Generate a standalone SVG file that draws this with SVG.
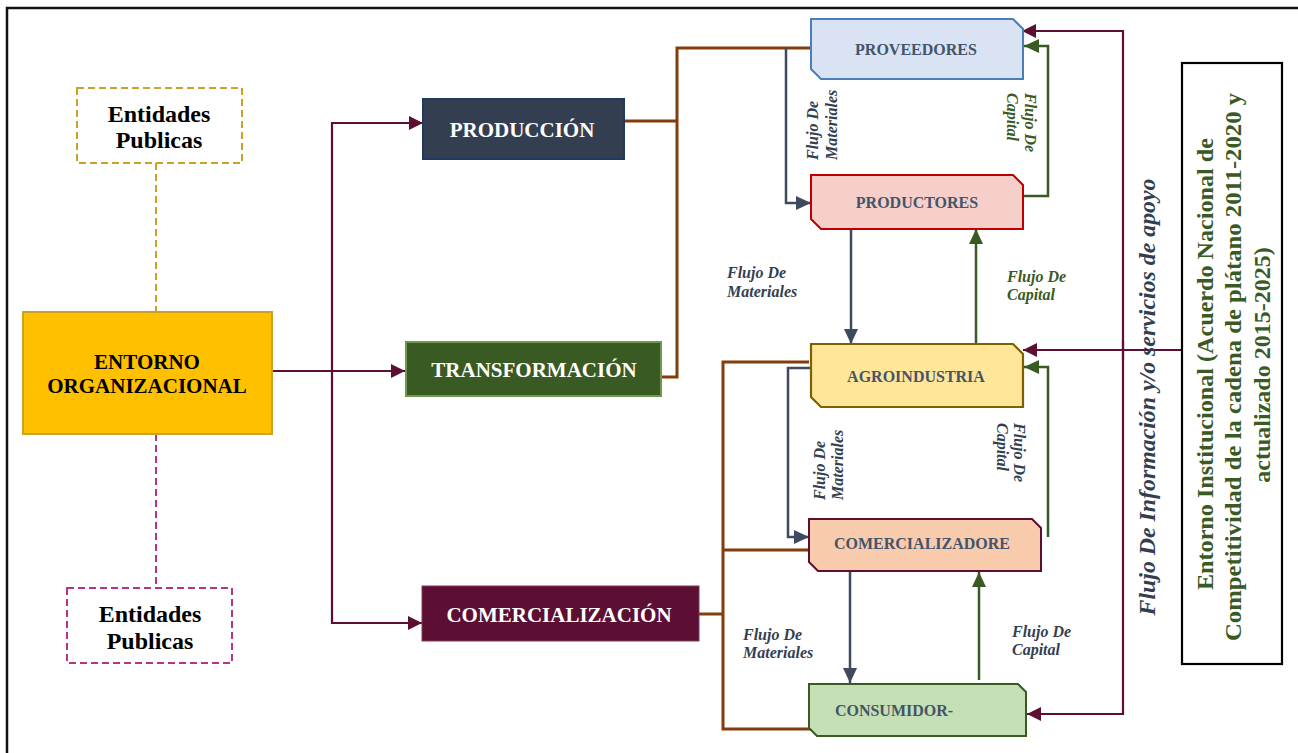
<svg xmlns="http://www.w3.org/2000/svg" width="1298" height="753" viewBox="0 0 1298 753">
  <defs>
    <style>
      text { font-family: "Liberation Serif", "Times New Roman", serif; font-weight: bold; }
      .big { font-size: 21px; fill: #ffffff; text-anchor: middle; }
      .ent { font-size: 24px; fill: #000000; text-anchor: middle; }
      .org { font-size: 21px; fill: #000000; text-anchor: middle; }
      .node { font-size: 16px; fill: #44546A; text-anchor: middle; }
      .lbl { font-size: 16px; font-style: italic; }
      .slate { fill: #333F50; }
      .green { fill: #3A5A24; }
      .inst { font-size: 24px; fill: #3A5A24; text-anchor: middle; }
      .info { font-size: 23px; font-style: italic; fill: #333F50; text-anchor: middle; }
      .c-pur { fill: none; stroke: #5C0F33; stroke-width: 2.2; }
      .c-brn { fill: none; stroke: #843C0C; stroke-width: 3; }
      .c-sla { fill: none; stroke: #3E4B5E; stroke-width: 2.5; }
      .c-grn { fill: none; stroke: #3A5A24; stroke-width: 2.5; }
      .dash-gold { fill: none; stroke: #C9A227; stroke-width: 2; stroke-dasharray: 7 4; }
      .dash-mag { fill: none; stroke: #B5348A; stroke-width: 2; stroke-dasharray: 7 4; }
    </style>
    <marker id="arr-pur" markerUnits="userSpaceOnUse" markerWidth="14" markerHeight="14" refX="14" refY="7" orient="auto">
      <path d="M0,0 L14,7 L0,14 Z" fill="#5C0F33"/>
    </marker>
    <marker id="arr-sla" markerUnits="userSpaceOnUse" markerWidth="15" markerHeight="14" refX="15" refY="7" orient="auto">
      <path d="M0,0 L15,7 L0,14 Z" fill="#3E4B5E"/>
    </marker>
    <marker id="arr-grn" markerUnits="userSpaceOnUse" markerWidth="15" markerHeight="14" refX="15" refY="7" orient="auto">
      <path d="M0,0 L15,7 L0,14 Z" fill="#3A5A24"/>
    </marker>
  </defs>

  <rect width="1298" height="753" fill="#ffffff"/>
  <!-- page frame -->
  <rect x="7" y="8" width="1300" height="760" fill="none" stroke="#111111" stroke-width="2.5"/>

  <!-- connectors -->
  <g id="connectors">
    <!-- dashed links to public entities -->
    <path class="dash-gold" d="M156,163 V312"/>
    <path class="dash-mag" d="M156,434 V588"/>
    <!-- organizational environment to the three stages -->
    <path class="c-pur" d="M272,371 H405" marker-end="url(#arr-pur)"/>
    <path class="c-pur" d="M332,371 V123 H423" marker-end="url(#arr-pur)"/>
    <path class="c-pur" d="M332,371 V623 H422" marker-end="url(#arr-pur)"/>
    <!-- stage groupings -->
    <path class="c-brn" d="M624,121 H677"/>
    <path class="c-brn" d="M661,377 H677 V48 H811"/>
    <path class="c-brn" d="M809,362 H723 V729 H812"/>
    <path class="c-brn" d="M723,550 H809"/>
    <path class="c-brn" d="M699,614 H723"/>
    <!-- material flows -->
    <path class="c-sla" d="M786,48 V203 H811" marker-end="url(#arr-sla)"/>
    <path class="c-sla" d="M851,229 V344" marker-end="url(#arr-sla)"/>
    <path class="c-sla" d="M811,368 H788 V537 H809" marker-end="url(#arr-sla)"/>
    <path class="c-sla" d="M850,571 V683" marker-end="url(#arr-sla)"/>
    <!-- capital flows -->
    <path class="c-grn" d="M1023,196 H1048 V46 H1024" marker-end="url(#arr-grn)"/>
    <path class="c-grn" d="M976,344 V229" marker-end="url(#arr-grn)"/>
    <path class="c-grn" d="M1048,537 V367 H1024" marker-end="url(#arr-grn)"/>
    <path class="c-grn" d="M979,680 V572" marker-end="url(#arr-grn)"/>
    <!-- information / support services -->
    <path class="c-pur" d="M1123,360 V31 H1022" marker-end="url(#arr-pur)"/>
    <path class="c-pur" d="M1123,340 V714 H1027" marker-end="url(#arr-pur)"/>
    <path class="c-pur" d="M1182,350 H1023" marker-end="url(#arr-pur)"/>
  </g>

  <!-- flow labels -->
  <g id="flow-labels">
    <text class="lbl slate" transform="translate(818,160) rotate(-90)">Flujo De</text>
    <text class="lbl slate" transform="translate(837,160) rotate(-90)">Materiales</text>
    <text class="lbl green" transform="translate(1025,93) rotate(90)">Flujo De</text>
    <text class="lbl green" transform="translate(1007,93) rotate(90)">Capital</text>

    <text class="lbl slate" x="727" y="278">Flujo De</text>
    <text class="lbl slate" x="727" y="297">Materiales</text>
    <text class="lbl green" x="1007" y="282">Flujo De</text>
    <text class="lbl green" x="1007" y="300">Capital</text>

    <text class="lbl slate" transform="translate(825,500) rotate(-90)">Flujo De</text>
    <text class="lbl slate" transform="translate(843,500) rotate(-90)">Materiales</text>
    <text class="lbl slate" transform="translate(1014,423) rotate(90)">Flujo De</text>
    <text class="lbl slate" transform="translate(997,423) rotate(90)">Capital</text>

    <text class="lbl slate" x="743" y="640">Flujo De</text>
    <text class="lbl slate" x="743" y="658">Materiales</text>
    <text class="lbl slate" x="1012" y="637">Flujo De</text>
    <text class="lbl slate" x="1012" y="655">Capital</text>

    <text class="info" transform="translate(1155,397) rotate(-90)" textLength="437" lengthAdjust="spacingAndGlyphs">Flujo De Información y/o servicios de apoyo</text>
  </g>

  <!-- left column -->
  <g id="entidades-top">
    <rect class="dash-gold" x="77" y="88" width="165" height="75" fill="#ffffff"/>
    <text class="ent" x="159" y="122">Entidades</text>
    <text class="ent" x="159" y="148">Publicas</text>
  </g>
  <g id="entorno-organizacional">
    <rect x="23" y="312" width="249" height="122" fill="#FFC000" stroke="#C9A227" stroke-width="2"/>
    <text class="org" x="147" y="369">ENTORNO</text>
    <text class="org" x="147" y="393">ORGANIZACIONAL</text>
  </g>
  <g id="entidades-bottom">
    <rect class="dash-mag" x="67" y="588" width="165" height="75" fill="#ffffff"/>
    <text class="ent" x="150" y="622">Entidades</text>
    <text class="ent" x="150" y="649">Publicas</text>
  </g>

  <!-- stages -->
  <g id="produccion">
    <rect x="423" y="99" width="201" height="60" fill="#333F50" stroke="#1F3864" stroke-width="2"/>
    <text class="big" x="522" y="137">PRODUCCIÓN</text>
  </g>
  <g id="transformacion">
    <rect x="406" y="342" width="255" height="54" fill="#3A5A24" stroke="#6E9A4F" stroke-width="2"/>
    <text class="big" x="534" y="377">TRANSFORMACIÓN</text>
  </g>
  <g id="comercializacion">
    <rect x="422" y="586" width="277" height="55" fill="#5C0F33" stroke="#7E3A5A" stroke-width="1"/>
    <text class="big" x="559" y="622">COMERCIALIZACIÓN</text>
  </g>

  <!-- chain actors -->
  <g id="proveedores">
    <path d="M811,19 H1013 L1023,29 V79 H821 L811,69 Z" fill="#DAE3F3" stroke="#4A7EBB" stroke-width="2"/>
    <text class="node" x="916" y="55">PROVEEDORES</text>
  </g>
  <g id="productores">
    <path d="M811,175 H1013 L1023,185 V229 H821 L811,219 Z" fill="#F6CFCB" stroke="#C00000" stroke-width="2"/>
    <text class="node" x="917" y="208">PRODUCTORES</text>
  </g>
  <g id="agroindustria">
    <path d="M811,344 H1013 L1023,354 V407 H821 L811,397 Z" fill="#FFE699" stroke="#7F6000" stroke-width="2.2"/>
    <text class="node" x="916" y="382">AGROINDUSTRIA</text>
  </g>
  <g id="comercializadore">
    <path d="M809,519 H1032 L1041,528 V571 H818 L809,562 Z" fill="#F8CBAD" stroke="#5C0F33" stroke-width="2"/>
    <text class="node" x="922" y="549">COMERCIALIZADORE</text>
  </g>
  <g id="consumidor">
    <path d="M809,684 H1018 L1026,692 V736 H817 L809,728 Z" fill="#C5E0B4" stroke="#3A5A24" stroke-width="2"/>
    <text class="node" x="894" y="716">CONSUMIDOR-</text>
  </g>

  <!-- institutional environment -->
  <g id="entorno-institucional">
    <rect x="1182" y="63" width="100" height="601" fill="#ffffff" stroke="#000000" stroke-width="2.2"/>
    <text class="inst" transform="translate(1213,364) rotate(-90)" textLength="452" lengthAdjust="spacingAndGlyphs">Entorno Institucional (Acuerdo Nacional de</text>
    <text class="inst" transform="translate(1241,367) rotate(-90)" textLength="548" lengthAdjust="spacingAndGlyphs">Competitividad de la cadena de plátano 2011-2020 y</text>
    <text class="inst" transform="translate(1270,365) rotate(-90)">actualizado 2015-2025)</text>
  </g>
</svg>
